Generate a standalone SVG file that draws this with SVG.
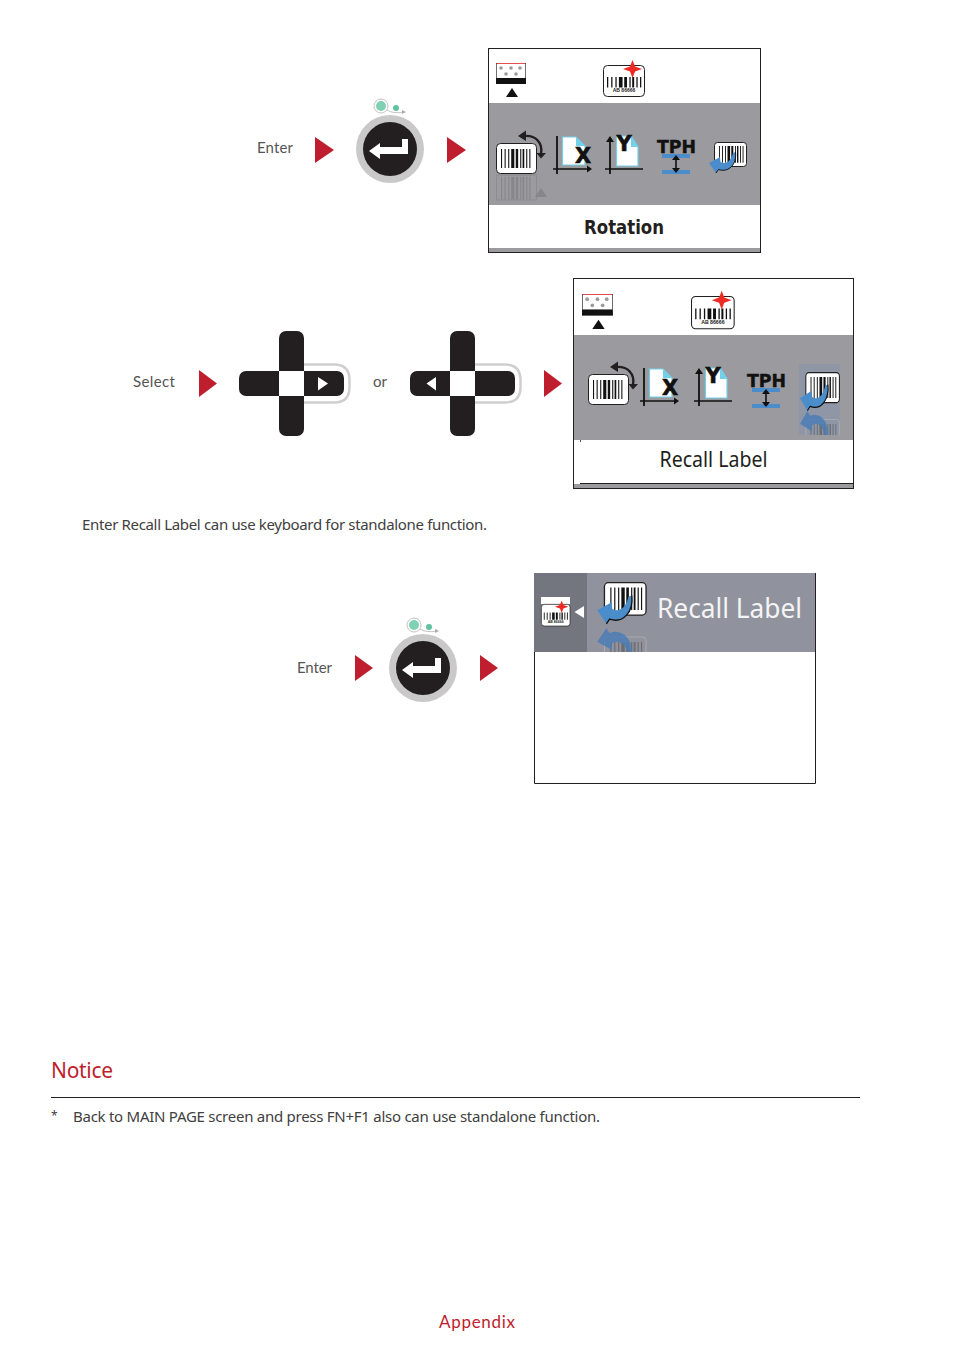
<svg xmlns="http://www.w3.org/2000/svg" width="954" height="1350" viewBox="0 0 954 1350">
<style>
.body{font-family:"Noto Sans","Open Sans",sans-serif;font-size:15px;fill:#404040}
.lab{font-family:"Lato","Liberation Sans",sans-serif;font-size:15px;fill:#555}
.red{fill:#be1e2d}
.frame{fill:#fff;stroke:#231f20;stroke-width:1}
.band{fill:#9a9a9f}
.blue{fill:#4b8ccb}
</style>
<defs>
<clipPath id="clip2"><rect x="799" y="405" width="41" height="30"/></clipPath>
<clipPath id="clip3"><rect x="590" y="618" width="70" height="34"/></clipPath>
<path id="bars" d="M0 0h.9v16h-.9zM3 0h.9v16h-.9zM6 0h.9v16h-.9zM8.500 0h2.600v16h-2.600zM12.300 0h2v16h-2zM16 0h.9v16h-.9zM18 0h1.400v16h-1.400zM21 0h.9v16h-.9zM23.600 0h.9v16h-.9z"/>
<g id="button">
<circle cx="0" cy="0" r="34" fill="#c9c9c9"/>
<circle cx="0" cy="0" r="27" fill="#231f20"/>
<path d="M-21 2L-10-6V-2H12V-10H18V5H-10V10Z" fill="#fff"/>
<circle cx="-9" cy="-43" r="7" fill="#fff" stroke="#c4c4c4"/>
<circle cx="-9" cy="-43" r="5" fill="#7fd1b4"/>
<circle cx="6" cy="-41" r="3" fill="#5fc2a0"/>
<path d="M-3-39Q3-35 14-37" fill="none" stroke="#c4c4c4"/>
<path d="M12-39L16-37L12-35Z" fill="#aaa"/>
</g>
<g id="topleft">
<path d="M0 0h30v.8h-30z" fill="#d22"/>
<rect x="0" y="15" width="30" height="6" fill="#111"/>
<path d="M0 0h.7v15h-.7zM29.300 0h.7v15h-.7z" fill="#333"/>
<g fill="#9a9a9f"><circle cx="5" cy="5" r="1.800"/><circle cx="15" cy="5" r="1.800"/><circle cx="24" cy="5" r="1.800"/><circle cx="10" cy="11" r="1.800"/><circle cx="20" cy="11" r="1.800"/></g>
<path d="M10 34L16 25L22 34Z" fill="#111"/>
</g>
<g id="labelstar">
<rect x="0.500" y="0.500" width="41" height="31" rx="4" fill="#fff" stroke="#231f20"/>
<use href="#bars" transform="translate(4 12) scale(1.400 .65)" fill="#111"/>
<text x="21" y="27" font-family="Liberation Sans,sans-serif" font-weight="bold" font-size="5" fill="#222" text-anchor="middle">AB 86666</text>
<path d="M29.500-5L32 1.500L39 4L32 6.500L29.500 13L27 6.500L20 4L27 1.500Z" fill="#ee2a24"/>
</g>
<g id="rotate">
<rect x="0.500" y="0.500" width="40" height="30" rx="4" fill="#fff" stroke="#231f20"/>
<use href="#bars" transform="translate(5 6) scale(1.200 1.180)" fill="#111"/>
<path d="M28-7C40-8 47 0 45 11" fill="none" stroke="#231f20" stroke-width="2.400"/>
<path d="M22-7L30-12.500V-2ZM40.500 10H50L45 15.500Z" fill="#231f20"/>
</g>
<g id="xicon">
<path d="M4 0V38" stroke="#111" stroke-width="1.800"/><path d="M0 33H35" stroke="#111" stroke-width="1.400"/><path d="M34 29.500L39 33L34 36.500Z" fill="#111"/>
<path d="M9.500 1H23L32 10V29H9.500Z" fill="#fff" stroke="#74d0e8" stroke-width="1.200"/><path d="M23 1L32 10H23Z" fill="#74d0e8"/>
<text x="30" y="27" font-family="DejaVu Sans,sans-serif" font-weight="bold" font-size="21" fill="#111" stroke="#111" stroke-width=".6" text-anchor="middle">X</text>
</g>
<g id="yicon">
<path d="M5 3V38" stroke="#111" stroke-width="1.800"/><path d="M5 0L9 6H1Z" fill="#111"/><path d="M0 33H38" stroke="#111" stroke-width="1.400"/>
<path d="M11.500 0H26L33 11V30H11.500Z" fill="#fff" stroke="#74d0e8" stroke-width="1.200"/><path d="M26 0L33 11H26Z" fill="#74d0e8"/>
<text x="19" y="15" font-family="DejaVu Sans,sans-serif" font-weight="bold" font-size="21" fill="#111" stroke="#111" stroke-width=".6" text-anchor="middle">Y</text>
</g>
<g id="tph">
<text x="19.500" y="14" font-family="DejaVu Sans,sans-serif" font-weight="bold" font-size="18" fill="#111" stroke="#111" stroke-width=".4" text-anchor="middle" textLength="39" lengthAdjust="spacingAndGlyphs">TPH</text>
<rect x="5" y="15" width="28" height="4" class="blue"/><rect x="5" y="31" width="28" height="4" class="blue"/>
<path d="M19 18V33" stroke="#111" stroke-width="1.600"/><path d="M15 21L19 16L23 21ZM15 29L19 34L23 29Z" fill="#111"/>
</g>
<path id="recallarrow" d="M1 21L12 15L12.500 20C18 23 23 19 25 11L27.500 10C29 22 21 31 10.500 27.500L8 31Z"/>
<g id="recall">
<rect x="6.500" y="0.500" width="32" height="24" rx="3" fill="#fff" stroke="#231f20"/>
<use href="#bars" transform="translate(11 4) scale(1 1.050)" fill="#111"/>
<use href="#recallarrow" class="blue"/>
<path d="M8 31L10.500 27.500C21 31 29 22 27.500 10" fill="none" stroke="#111" stroke-width="1"/>
</g>
<g id="ghost">
<rect x="6.500" y="0.500" width="32" height="24" rx="3" fill="none" stroke="#bbb" stroke-width=".8" opacity=".6"/>
<use href="#bars" transform="translate(11 4) scale(1 1.050)" fill="#555" opacity=".6"/>
<use href="#recallarrow" fill="#4b7cb5" opacity=".85"/>
</g>
</defs>
<rect width="954" height="1350" fill="#fff"/>

<g id="connectors">
<path class="red" d="M315 137L334 150L315 163Z"/>
<path class="red" d="M447 137L466 150L447 163Z"/>
<path class="red" d="M199 370L217 383.500L199 397Z"/>
<path class="red" d="M544 370L562 383.500L544 397Z"/>
<path class="red" d="M355 655L373 668L355 681Z"/>
<path class="red" d="M480 655L498 668L480 681Z"/>
</g>

<g id="enter-1"><text class="lab" x="257" y="153" textLength="36">Enter</text></g>
<g id="enter-button-1"><use href="#button" x="390" y="149"/></g>

<g id="screen-rotation">
<rect class="frame" x="488.500" y="48.500" width="272" height="204"/>
<rect class="band" x="489" y="103" width="271" height="102"/>
<rect class="band" x="489" y="248" width="271" height="4"/>
<use href="#topleft" x="496" y="63"/>
<use href="#labelstar" x="603" y="65"/>
<g opacity=".35"><rect x="496.500" y="175" width="40" height="25" fill="none" stroke="#777"/><use href="#bars" transform="translate(501 177) scale(1.200 1.400)" fill="#666"/><path d="M535 197L541 188L547 197Z" fill="#666"/></g>
<use href="#rotate" x="496" y="143"/>
<use href="#xicon" x="553" y="136"/>
<use href="#yicon" x="605" y="136"/>
<use href="#tph" x="657" y="139"/>
<use href="#recall" x="708" y="142"/>
<text x="624" y="234" font-family="DejaVu Sans,sans-serif" font-weight="bold" font-size="20" fill="#231f20" text-anchor="middle" textLength="80" lengthAdjust="spacingAndGlyphs">Rotation</text>
</g>

<g id="select-label"><text class="lab" x="133" y="387" textLength="42">Select</text></g>
<g id="dpad-right">
<path d="M303 364.500H334Q349.500 364.500 349.500 380V387Q349.500 402.500 334 402.500H303" fill="none" stroke="#cfcfcf" stroke-width="2.500"/>
<rect x="279" y="331" width="25" height="105" rx="7" fill="#231f20"/>
<rect x="239" y="371" width="105" height="25" rx="7" fill="#231f20"/>
<rect x="279" y="371" width="25" height="25" fill="#fff"/>
<path d="M318 377L328 383.500L318 390.500Z" fill="#fff"/>
</g>
<g id="or-label"><text class="lab" x="373" y="387" textLength="14">or</text></g>
<g id="dpad-left">
<path d="M474 364.500H505Q520.500 364.500 520.500 380V387Q520.500 402.500 505 402.500H474" fill="none" stroke="#cfcfcf" stroke-width="2.500"/>
<rect x="450" y="331" width="25" height="105" rx="7" fill="#231f20"/>
<rect x="410" y="371" width="105" height="25" rx="7" fill="#231f20"/>
<rect x="450" y="371" width="25" height="25" fill="#fff"/>
<path d="M436 377L426.500 383.500L436 390.500Z" fill="#fff"/>
</g>

<g id="screen-recall">
<rect class="frame" x="573.500" y="278.500" width="280" height="210"/>
<rect class="band" x="574" y="335" width="279" height="105"/>
<rect x="574" y="484" width="279" height="4" fill="#9a9a9f"/>
<path d="M580 483.500H853" stroke="#231f20"/>
<path d="M580.500 440V442" stroke="#231f20" stroke-width=".8"/>
<rect x="799" y="364" width="41" height="71" fill="#8f96a6"/>
<use href="#topleft" transform="translate(582 294) scale(1.030)"/>
<use href="#labelstar" transform="translate(691 296) scale(1.040)"/>
<use href="#rotate" transform="translate(588 374)"/>
<use href="#xicon" transform="translate(640 368)"/>
<use href="#yicon" transform="translate(694 368)"/>
<use href="#tph" transform="translate(747 373)"/>
<g clip-path="url(#clip2)"><use href="#ghost" transform="translate(799 450) scale(1.050 -1.250)"/></g>
<use href="#recall" transform="translate(799 372) scale(1.050 1.250)"/>
<text x="713.500" y="467" font-family="Noto Sans,sans-serif" font-size="21" fill="#231f20" text-anchor="middle" textLength="108" lengthAdjust="spacingAndGlyphs">Recall Label</text>
</g>

<g id="body-note"><text class="body" x="82" y="530" textLength="405">Enter Recall Label can use keyboard for standalone function.</text></g>

<g id="enter-2"><text class="lab" x="297" y="673" textLength="35">Enter</text></g>
<g id="enter-button-2"><use href="#button" x="423" y="668"/></g>

<g id="screen-recall-open">
<path d="M815.500 573V783.500H534.500V652" fill="#fff" stroke="#231f20"/>
<rect x="534" y="573" width="281" height="79" fill="#90939d"/>
<rect x="534" y="573" width="53" height="79" fill="#74767f"/>
<rect x="541" y="597" width="29" height="7" fill="#fff"/>
<use href="#labelstar" transform="translate(541 604) scale(.7)"/>
<path d="M584 606V618L574.500 612Z" fill="#fff"/>
<g clip-path="url(#clip3)"><use href="#ghost" transform="translate(596 670) scale(1.300 -1.350)"/></g>
<use href="#recall" transform="translate(596 582) scale(1.300 1.350)"/>
<text x="657" y="618" font-family="Noto Sans,sans-serif" font-size="28" fill="#f4f4f4" textLength="145" lengthAdjust="spacingAndGlyphs">Recall Label</text>
</g>

<g id="notice">
<text x="51" y="1078" font-family="Noto Sans,sans-serif" font-size="21" fill="#be1e2d" textLength="62">Notice</text>
<path d="M51 1097.500H860" stroke="#231f20" stroke-width="1"/>
<text class="body" x="51" y="1120" style="font-size:12px">*</text>
<text class="body" x="73" y="1122" textLength="527">Back to MAIN PAGE screen and press FN+F1 also can use standalone function.</text>
</g>

<g id="footer"><text x="477" y="1328" font-family="Lato,sans-serif" font-size="17" fill="#be1e2d" text-anchor="middle" textLength="76">Appendix</text></g>
</svg>
